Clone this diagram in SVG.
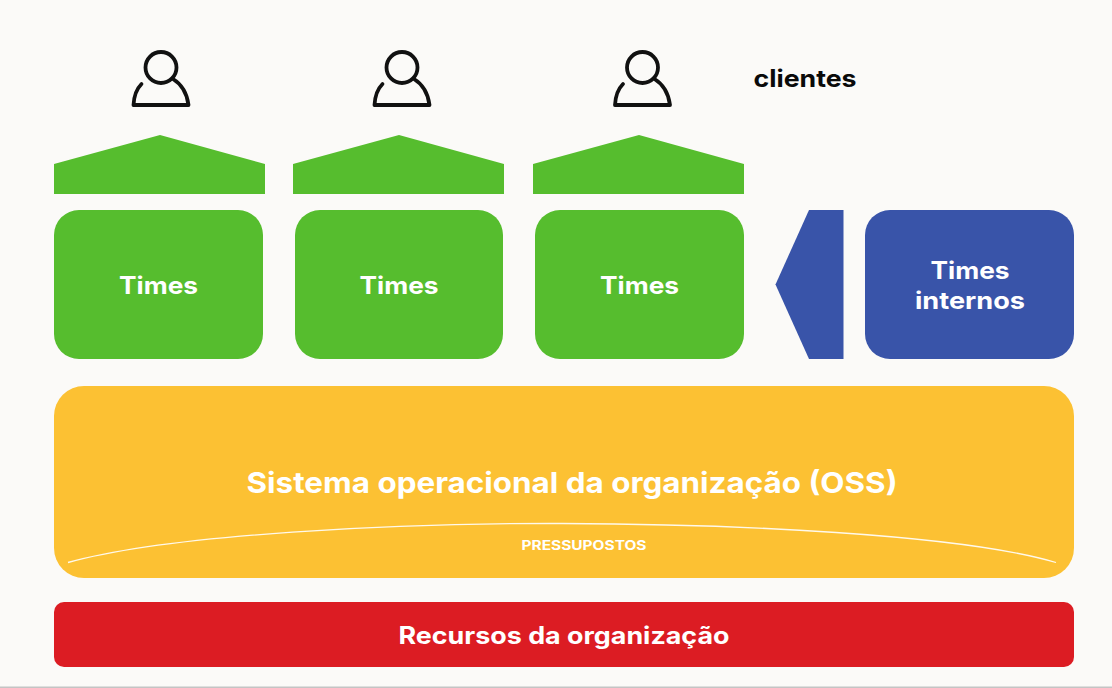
<svg xmlns="http://www.w3.org/2000/svg" width="1112" height="688" viewBox="0 0 1112 688">
<style>
text{font-family:"Inter","Liberation Sans",sans-serif;font-weight:700;fill:#fff;text-anchor:middle}
.green{fill:#56bd2e}.blue{fill:#3954a9}
.t{font-size:24px}
.person{fill:none;stroke:#111;stroke-width:3.8;stroke-linecap:round;stroke-linejoin:round}
</style>
<defs>
<g id="person" class="person"><circle cx="0" cy="-1" r="15.500"/><path d="M-19.500 15.500C-24 20-27 27-27.500 36.500H27.500C26 25 21 16 12 10.500"/></g>
</defs>
<rect width="1112" height="688" fill="#fbfaf8"/>
<rect y="686.500" width="1112" height="1.500" fill="#c4c4c4"/>
<g id="connectors">
<polygon class="green" points="54,164 160,135 265,164 265,194 54,194"/>
<polygon class="green" points="293,164 399,135 504,164 504,194 293,194"/>
<polygon class="green" points="533,164 639,135 744,164 744,194 533,194"/>
<polygon class="blue" points="809,210 843.500,210 843.500,359 809,359 775.500,284.500"/>
</g>
<g id="client1"><use href="#person" x="161" y="68.500"/></g>
<g id="client2"><use href="#person" x="402" y="68.500"/></g>
<g id="client3"><use href="#person" x="642.500" y="68.500"/></g>
<g id="clientes"><text x="805" y="86.500" font-size="24" style="fill:#0a0a0a" textLength="103" lengthAdjust="spacingAndGlyphs">clientes</text></g>
<g id="team1"><rect class="green" x="54" y="210" width="209" height="149" rx="25"/><text class="t" x="158.500" y="294" textLength="79" lengthAdjust="spacingAndGlyphs">Times</text></g>
<g id="team2"><rect class="green" x="295" y="210" width="208" height="149" rx="25"/><text class="t" x="399" y="294" textLength="79" lengthAdjust="spacingAndGlyphs">Times</text></g>
<g id="team3"><rect class="green" x="535" y="210" width="209" height="149" rx="25"/><text class="t" x="639.500" y="294" textLength="79" lengthAdjust="spacingAndGlyphs">Times</text></g>
<g id="internal"><rect class="blue" x="865" y="210" width="209" height="149" rx="25"/><text class="t" x="970" y="279" textLength="79" lengthAdjust="spacingAndGlyphs">Times</text><text class="t" x="970" y="309" textLength="110" lengthAdjust="spacingAndGlyphs">internos</text></g>
<g id="oss"><rect x="54" y="386" width="1020" height="192" rx="30" fill="#fcc133"/>
<text x="572" y="493" font-size="29" textLength="651" lengthAdjust="spacingAndGlyphs">Sistema operacional da organização (OSS)</text>
<path d="M68 562.500C170 534 400 523 562 523.500C730 524 960 534 1056 562.500" fill="none" stroke="#fff" stroke-width="1.300" opacity="0.900"/>
<text x="584" y="550" font-size="13" textLength="125" lengthAdjust="spacingAndGlyphs">PRESSUPOSTOS</text></g>
<g id="resources"><rect x="54" y="602" width="1020" height="65" rx="10" fill="#dc1c23"/>
<text x="564" y="644" font-size="24" textLength="331" lengthAdjust="spacingAndGlyphs">Recursos da organização</text></g>
</svg>
